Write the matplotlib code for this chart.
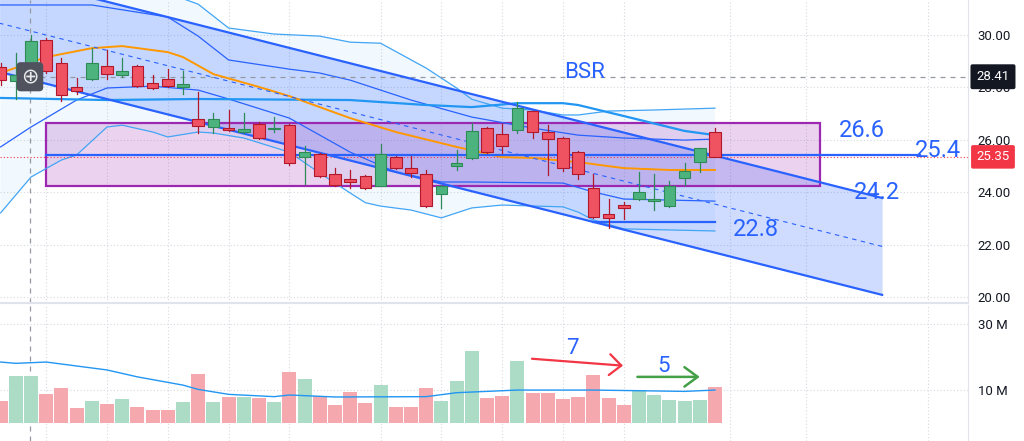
import matplotlib.pyplot as plt
from matplotlib.patches import Rectangle
from matplotlib.transforms import blended_transform_factory

plt.rcParams['font.family'] = ['Roboto', 'DejaVu Sans']

# daily candles, index 0 is the leftmost (partly hidden) bar
opens = [28.78, 28.24, 28.44, 29.81, 28.93, 28.02, 28.32, 28.82, 28.47, 28.82,
         28.17, 28.32, 28.02, 26.79, 26.49, 26.45, 26.30, 26.60, 26.40, 26.56,
         25.34, 25.46, 24.69, 24.50, 24.62, 24.24, 25.34, 24.92, 24.69, 23.93,
         25.00, 25.31, 26.45, 26.22, 26.37, 27.10, 26.30, 26.07, 25.53, 24.16,
         23.17, 23.51, 23.74, 23.66, 23.47, 24.54, 25.15, 26.30]
highs = [28.95, 29.31, 30.00, 29.90, 29.12, 28.36, 29.50, 29.43, 29.12, 28.85,
         28.47, 28.70, 28.63, 27.82, 27.02, 27.14, 27.02, 26.68, 26.87, 26.60,
         25.76, 25.50, 24.92, 24.85, 24.66, 25.84, 25.38, 25.38, 24.85, 24.27,
         25.61, 26.64, 26.50, 26.60, 27.44, 27.12, 26.56, 26.10, 25.57, 24.69,
         23.74, 23.63, 24.77, 24.69, 24.43, 25.11, 25.69, 26.45]
lows = [28.10, 27.56, 28.35, 28.55, 27.48, 27.75, 28.28, 28.32, 28.40, 28.02,
        27.95, 28.02, 27.75, 26.26, 26.26, 26.35, 26.28, 26.05, 26.30, 25.05,
        24.31, 24.60, 24.25, 24.16, 24.12, 24.22, 24.90, 24.58, 23.45, 23.40,
        24.85, 25.28, 25.50, 25.50, 26.26, 26.07, 24.66, 24.80, 24.50, 23.02,
        22.63, 22.98, 23.72, 23.32, 23.45, 24.27, 24.77, 25.33]
closes = [28.28, 28.47, 29.77, 28.63, 27.71, 27.86, 28.93, 28.51, 28.63, 28.05,
          27.98, 28.05, 28.13, 26.53, 26.79, 26.37, 26.41, 26.07, 26.42, 25.11,
          25.53, 24.62, 24.27, 24.39, 24.16, 25.46, 24.92, 24.73, 23.47, 24.24,
          25.11, 26.34, 25.53, 25.76, 27.21, 26.30, 26.03, 24.92, 24.69, 23.05,
          23.02, 23.40, 24.00, 23.74, 24.24, 24.81, 25.69, 25.35]
volumes = [6.8, 14.2, 14.2, 8.8, 10.6, 4.6, 6.8, 5.8, 7.3, 4.8,
           4.1, 4.1, 6.3, 14.9, 6.5, 8.0, 7.8, 7.5, 6.5, 15.4,
           13.3, 8.3, 5.5, 9.3, 6.0, 11.5, 5.0, 4.8, 10.6, 6.8,
           12.8, 21.7, 7.6, 8.3, 18.8, 9.0, 9.2, 7.3, 7.8, 14.5,
           7.5, 5.5, 10.0, 8.5, 7.0, 6.8, 7.0, 11.0]

# indicator lines (bar index, value)
ema_idx = [0, 3, 6, 8, 11, 12, 14, 17, 19, 21, 23, 26, 30, 33, 35, 38, 41, 44, 47]
ema_val = [28.55, 29.16, 29.50, 29.58, 29.35, 29.16, 28.51, 28.02, 27.67, 27.25,
           26.83, 26.30, 25.73, 25.34, 25.31, 25.15, 24.92, 24.85, 24.85]
sma_idx = [0, 7, 13, 23, 28, 31, 34, 37, 38, 41, 45, 47]
sma_val = [27.60, 27.52, 27.56, 27.52, 27.33, 27.25, 27.40, 27.40, 27.33, 26.91, 26.34, 26.18]
bb_up_idx = [0, 4, 8, 11, 13, 15, 18, 21, 23, 25, 28, 30, 31, 33, 35, 37, 38, 40, 43, 47]
bb_up_val = [32.6, 32.4, 32.0, 31.6, 31.18, 30.27, 30.04, 29.96, 29.73, 29.69,
             28.74, 27.98, 27.55, 27.21, 27.14, 26.95, 26.95, 27.10, 27.14, 27.21]
bb_lo_idx = [0, 2, 4, 5, 7, 8, 10, 11, 13, 14, 16, 19, 21, 22, 23, 24, 25, 27, 29,
             31, 33, 37, 38, 39, 41, 47]
bb_lo_val = [23.21, 24.58, 25.23, 25.42, 26.49, 26.56, 26.30, 26.11, 26.30, 26.26,
             26.07, 25.53, 24.73, 24.35, 23.97, 23.60, 23.47, 23.32, 23.02,
             23.40, 23.51, 23.44, 23.24, 22.94, 22.60, 22.52]
in_up_idx = [0, 6, 11, 13, 15, 19, 21, 23, 27, 31, 35, 38, 41, 45, 47]
in_up_val = [31.15, 31.15, 30.69, 29.96, 29.05, 28.70, 28.55, 28.28, 27.52, 26.87,
             26.45, 26.18, 26.07, 25.99, 26.03]
in_lo_idx = [0, 2, 5, 7, 10, 13, 15, 19, 21, 23, 26, 29, 31, 37, 39, 41, 47]
in_lo_val = [25.73, 26.49, 27.52, 27.98, 28.05, 27.90, 27.56, 26.83, 26.18, 25.53,
             24.77, 24.39, 24.39, 24.35, 24.01, 23.74, 23.66]
vol_ma_idx = [0, 1, 3, 5, 7, 9, 12, 13, 15, 18, 19, 22, 28, 30, 34, 39, 42, 45, 47]
vol_ma_val = [18.5, 18.1, 18.5, 17.3, 16.1, 14.0, 11.5, 10.2, 8.7, 8.0, 8.5, 7.9,
              8.0, 9.2, 10.0, 10.0, 9.8, 9.6, 10.0]

# drawings
ch_idx = [-1, 58]
ch_upper = [32.45, 23.78]
ch_lower = [28.73, 20.08]
ch_mid = [30.59, 21.93]
box_idx = [3.0, 53.9]
box_price = [24.25, 26.63]
lvl_254 = ([3.0, 60.5], 25.42)
lvl_228 = ([39, 47], 22.85)
cross_idx, cross_price = 1.93, 28.41
last_price = 25.35

label_txt = ['BSR', '26.6', '25.4', '24.2', '22.8']
label_idx = [38.45, 56.67, 61.67, 57.66, 49.7]
label_y = [28.36, 26.11, 25.34, 23.74, 22.33]
label_size = [16, 17, 17, 17, 17]

price_ticks = [20, 22, 24, 26, 28, 30]
vol_ticks = [10, 30]
vgrid_idx = [3, 7, 11, 15, 19, 25, 29, 33, 37, 41, 48, 53, 61]

BLUE = '#2962ff'
LBLUE = '#2196f3'
UP, UP_EDGE = '#4db37e', '#2e8b57'
DN, DN_EDGE = '#ef5362', '#b2182b'

W, H = 1024, 441
fig = plt.figure(figsize=(W / 100, H / 100), dpi=100)
ax = fig.add_axes([0, 1 - 303 / H, 968 / W, 303 / H])
axv = fig.add_axes([0, 0, 968 / W, 136 / H])

for a in (ax, axv):
    a.set_xlim(-0.04, 63.65)
    a.set_xticks(vgrid_idx)
    a.tick_params(axis='x', length=0, labelbottom=False)
    a.grid(True, color='#d6d9e0', ls=(0, (1, 2)), lw=0.8)
    a.set_axisbelow(True)
    a.yaxis.tick_right()
    a.tick_params(axis='y', length=0, pad=7, labelsize=9.5, labelcolor='#131722')
    a.spines['top'].set_visible(False)
    a.spines['left'].set_visible(False)
    a.spines['right'].set_color('#e0e3eb')

ax.set_ylim(19.77, 31.34)
ax.set_yticks(price_ticks)
ax.set_yticklabels([f'{v:.2f}' for v in price_ticks])
ax.spines['bottom'].set_color('#e0e3eb')
ax.spines['bottom'].set_linewidth(1.5)

axv.set_ylim(-5.45, 35.8)
axv.set_yticks(vol_ticks)
axv.set_yticklabels([f'{v} M' for v in vol_ticks])
axv.spines['bottom'].set_visible(False)

# bollinger fill and bands
poly_x = bb_up_idx + bb_lo_idx[::-1]
poly_y = bb_up_val + bb_lo_val[::-1]
ax.fill(poly_x, poly_y, color=LBLUE, alpha=0.06, lw=0, zorder=0.8)
ax.plot(bb_up_idx, bb_up_val, color='#42a5f5', lw=0.9, zorder=2)
ax.plot(bb_lo_idx, bb_lo_val, color='#42a5f5', lw=0.9, zorder=2)
ax.plot(in_up_idx, in_up_val, color=BLUE, lw=0.9, zorder=2)
ax.plot(in_lo_idx, in_lo_val, color=BLUE, lw=0.9, zorder=2)

# channel
ax.fill_between(ch_idx, ch_lower, ch_upper, color=BLUE, alpha=0.22, lw=0, zorder=1.2)
ax.plot(ch_idx, ch_upper, color=BLUE, lw=1.6, zorder=3)
ax.plot(ch_idx, ch_lower, color=BLUE, lw=1.6, zorder=3)
ax.plot(ch_idx, ch_mid, color=BLUE, lw=0.8, ls=(0, (4, 4)), zorder=3)

# box and levels
ax.add_patch(Rectangle((box_idx[0], box_price[0]), box_idx[1] - box_idx[0],
                       box_price[1] - box_price[0], fc=(0.612, 0.153, 0.69, 0.2),
                       ec='#9c27b0', lw=1.6, zorder=1.4))
ax.plot(lvl_254[0], [lvl_254[1]] * 2, color=BLUE, lw=1.6, zorder=3)
ax.plot(lvl_228[0], [lvl_228[1]] * 2, color=BLUE, lw=1.6, zorder=3)

ax.plot(sma_idx, sma_val, color=LBLUE, lw=1.6, zorder=2.5)
ax.plot(ema_idx, ema_val, color='#ff9800', lw=1.4, zorder=2.5)

# price and crosshair lines
ax.axhline(last_price, color='#f23645', ls=(0, (1, 2)), lw=0.8, zorder=2)
ax.axhline(cross_price, color='#9598a1', ls=(0, (4, 4)), lw=0.9, zorder=2)
for a in (ax, axv):
    a.axvline(cross_idx, color='#9598a1', ls=(0, (4, 4)), lw=0.9, zorder=2)

# candles
for i, (o, h, l, c) in enumerate(zip(opens, highs, lows, closes)):
    up = c >= o
    face, edge = (UP, UP_EDGE) if up else (DN, DN_EDGE)
    ax.plot([i, i], [l, h], color=edge, lw=0.9, zorder=4)
    bottom = min(o, c)
    height = max(abs(c - o), 0.06)
    ax.add_patch(Rectangle((i - 0.38, bottom), 0.76, height, fc=face, ec=edge,
                           lw=0.8, zorder=5))

# volume
vcol = ['#acdcc6' if c >= o else '#f5a9ae' for o, c in zip(opens, closes)]
axv.bar(range(len(volumes)), volumes, width=0.92, color=vcol, zorder=2)
axv.plot(vol_ma_idx, vol_ma_val, color=LBLUE, lw=1.0, zorder=3)

# labels
for t, xi, yv, fs in zip(label_txt, label_idx, label_y, label_size):
    ax.text(xi, yv, t, color=BLUE, fontsize=fs, ha='center', va='baseline', zorder=7)

axv.annotate('', xy=(40.95, 17.4), xytext=(34.96, 19.5),
             arrowprops=dict(arrowstyle='->,head_length=0.85,head_width=0.75',
                             color='#f23645', lw=1.6, shrinkA=0, shrinkB=0))
axv.annotate('', xy=(46.0, 14.0), xytext=(41.9, 14.0),
             arrowprops=dict(arrowstyle='->,head_length=0.95,head_width=0.7',
                             color='#43a047', lw=1.8, shrinkA=0, shrinkB=0))
axv.text(37.6, 21.0, '7', color=BLUE, fontsize=16, ha='center', va='baseline', zorder=7)
axv.text(43.6, 15.5, '5', color=BLUE, fontsize=16, ha='center', va='baseline', zorder=7)

# crosshair icon
ax.text(cross_idx, cross_price, '\u2295', color='#e8e8ea', fontsize=15, ha='center',
        va='center', family='DejaVu Sans', zorder=8,
        bbox=dict(boxstyle='round,pad=0.22,rounding_size=0.2', fc='#50535e', ec='none'))

# axis price boxes
tr = blended_transform_factory(ax.transAxes, ax.transData)
ax.text(1.0258, cross_price, f'{cross_price:.2f}', transform=tr, color='white',
        fontsize=9.5, ha='center', va='center', zorder=9, clip_on=False,
        bbox=dict(boxstyle='round,pad=0.45,rounding_size=0.15', fc='#131722', ec='none'))
ax.text(1.0258, last_price, f'{last_price:.2f}', transform=tr, color='white',
        fontsize=9.5, ha='center', va='center', zorder=9, clip_on=False,
        bbox=dict(boxstyle='round,pad=0.4,rounding_size=0.15', fc='#f23645', ec='none'))

fig.savefig('out.png', dpi=100)
